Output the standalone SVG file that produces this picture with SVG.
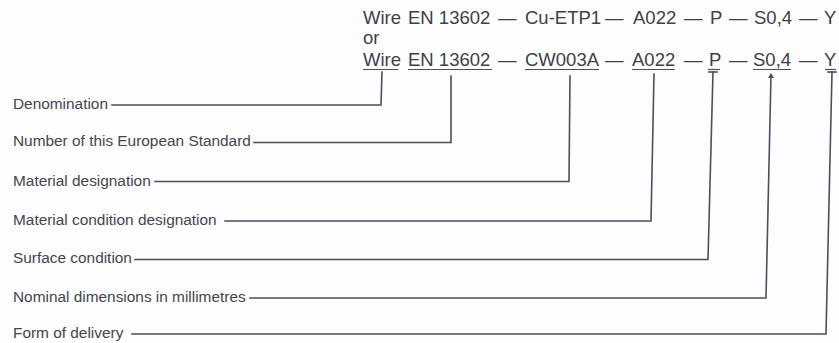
<svg xmlns="http://www.w3.org/2000/svg" width="839" height="343" viewBox="0 0 839 343">
<style>
.code{font-family:"Liberation Sans",Arial,sans-serif;font-size:18.5px;fill:#3f3f4a}
.lbl{font-family:"Liberation Sans",Arial,sans-serif;font-size:15.4px;fill:#45454f}
.ln{stroke:#4e4e5e;stroke-width:1.6;fill:none;stroke-linecap:square}
.ul{stroke:#4e4e5e;stroke-width:1.2}
</style>
<rect width="839" height="343" fill="#fdfdfd"/>
<g id="line1">
<text class="code" x="363" y="24">Wire</text>
<text class="code" x="408" y="24">EN 13602</text>
<text class="code" x="498" y="24">—</text>
<text class="code" x="525" y="24">Cu-ETP1</text>
<text class="code" x="605" y="24">—</text>
<text class="code" x="633" y="24">A022</text>
<text class="code" x="684" y="24">—</text>
<text class="code" x="710" y="24">P</text>
<text class="code" x="729" y="24">—</text>
<text class="code" x="754" y="24">S0,4</text>
<text class="code" x="799" y="24">—</text>
<text class="code" x="824" y="24">Y</text>
</g>
<g id="or"><text class="code" x="363" y="44">or</text></g>
<g id="line2">
<g id="c-wire"><text class="code" x="363" y="66">Wire</text><line class="ul" x1="363" y1="69.5" x2="398" y2="69.5"/></g>
<g id="c-en"><text class="code" x="408" y="66">EN 13602</text><line class="ul" x1="408" y1="69.5" x2="492" y2="69.5"/></g>
<text class="code" x="498" y="66">—</text>
<g id="c-cw"><text class="code" x="525" y="66">CW003A</text><line class="ul" x1="525" y1="69.5" x2="599" y2="69.5"/></g>
<text class="code" x="605" y="66">—</text>
<g id="c-a022"><text class="code" x="632" y="66">A022</text><line class="ul" x1="632" y1="69.5" x2="675" y2="69.5"/></g>
<text class="code" x="684" y="66">—</text>
<g id="c-p"><text class="code" x="709" y="66">P</text><line class="ul" x1="708" y1="69.5" x2="720" y2="69.5"/></g>
<text class="code" x="729" y="66">—</text>
<g id="c-s"><text class="code" x="753" y="66">S0,4</text><line class="ul" x1="753" y1="69.5" x2="791" y2="69.5"/></g>
<text class="code" x="799" y="66">—</text>
<g id="c-y"><text class="code" x="824" y="66">Y</text><line class="ul" x1="825" y1="69.5" x2="836" y2="69.5"/></g>
</g>
<g id="lbl-denomination"><text class="lbl" x="13" y="109">Denomination</text></g>
<g id="lbl-number"><text class="lbl" x="13" y="146">Number of this European Standard</text></g>
<g id="lbl-material"><text class="lbl" x="13" y="185.5">Material designation</text></g>
<g id="lbl-condition"><text class="lbl" x="13" y="224.5">Material condition designation</text></g>
<g id="lbl-surface"><text class="lbl" x="13" y="262.5">Surface condition</text></g>
<g id="lbl-nominal"><text class="lbl" x="13" y="301.5">Nominal dimensions in millimetres</text></g>
<g id="lbl-form"><text class="lbl" x="13" y="338">Form of delivery</text></g>
<g id="connectors">
<polyline class="ln" points="112,105 381,105 382,72"/>
<polyline class="ln" points="254,142.5 451,142.5 451,76"/>
<polyline class="ln" points="155,181.5 569,181.5 570,76"/>
<polyline class="ln" points="225,221 651,221 654,74"/>
<polyline class="ln" points="135,259.5 708,259.5 713,72"/>
<polyline class="ln" points="250,298 766,298 771,75"/>
<polyline class="ln" points="132,334 826,334 832,72"/>
<line class="ln" x1="709" y1="72" x2="717" y2="72"/>
<line class="ln" x1="828" y1="72" x2="836" y2="72"/>
<path d="M771,73 l-3,5 h6 z" fill="#4e4e5e"/>
</g>
</svg>
